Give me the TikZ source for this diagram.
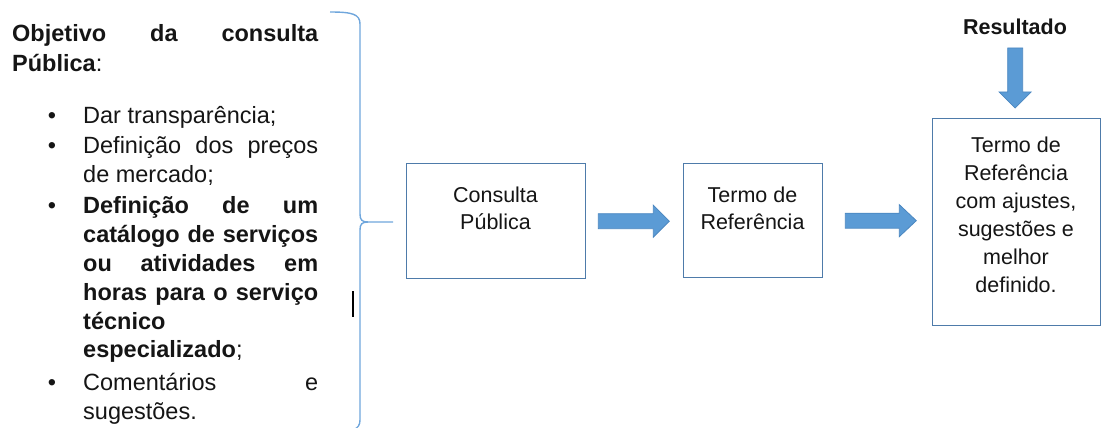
\documentclass[tikz,border=0pt]{standalone}
\usepackage{fontspec}
\setmainfont{Liberation Sans}
\definecolor{boxc}{HTML}{4E7BAA}
\definecolor{arrfill}{HTML}{5B9BD5}
\definecolor{arrline}{HTML}{4A86C0}
\definecolor{bracec}{HTML}{6FA6DC}
\definecolor{txt}{HTML}{151515}
\begin{document}
\begin{tikzpicture}[x=1pt,y=-1pt,
  ltext/.style={anchor=base west, inner sep=0pt, text=txt, font=\fontsize{23.5}{28}\selectfont},
  lbold/.style={ltext, font=\fontsize{23.5}{28}\selectfont\bfseries},
  bull/.style={anchor=base, inner sep=0pt, text=txt, font=\fontsize{23.5}{28}\selectfont},
  btext/.style={anchor=base, inner sep=0pt, text=txt, font=\fontsize{21.5}{27}\selectfont},
  boxst/.style={draw=boxc, line width=1.3pt, fill=white, inner sep=0pt, anchor=north west},
  blockarrow/.style={fill=arrfill, draw=arrline, line width=0.8pt, line join=miter},
  bracest/.style={draw=bracec, line width=1.4pt}]
\useasboundingbox (0,0) rectangle (1101,428);
\clip (0,0) rectangle (1101,428);

% left text
\node[lbold] (l1) at (12,42) {\makebox[306pt][s]{Objetivo da consulta}};
\node[ltext] (l2) at (12,72) {\textbf{Pública}:};
\node[bull] (b1) at (52,123) {•};
\node[ltext] (l3) at (83,123) {Dar transparência;};
\node[bull] (b2) at (52,153) {•};
\node[ltext] (l4) at (83,153) {\makebox[235pt][s]{Definição dos preços}};
\node[ltext] (l5) at (83,182) {de mercado;};
\node[bull] (b3) at (52,213) {•};
\node[lbold] (l6) at (83,213) {\makebox[235pt][s]{Definição de um}};
\node[lbold] (l7) at (83,242) {\makebox[235pt][s]{catálogo de serviços}};
\node[lbold] (l8) at (83,271) {\makebox[235pt][s]{ou atividades em}};
\node[lbold] (l9) at (83,300) {\makebox[235pt][s]{horas para o serviço}};
\node[lbold] (l10) at (83,329) {técnico};
\node[ltext] (l11) at (83,357) {\textbf{especializado};};
\node[bull] (b4) at (52,390) {•};
\node[ltext] (l12) at (83,390) {\makebox[235pt][s]{Comentários e}};
\node[ltext] (l13) at (83,419) {sugestões.};

% brace
\draw[bracest] (330,12) .. controls (352,12) and (360,14) .. (360,24)
  -- (360,214) .. controls (360,220) and (362,222) .. (368,222) -- (393,222);
\draw[bracest] (368,222) .. controls (362,222) and (360,224) .. (360,230)
  -- (360,420) .. controls (360,430) and (352,432) .. (330,432);
% cursor mark
\draw[black, line width=1.5pt] (353,291) -- (353,317);

% boxes
\node[boxst, minimum width=179pt, minimum height=115pt] (cp) at (406,163) {};
\node[boxst, minimum width=139pt, minimum height=114pt] (tr) at (683,163) {};
\node[boxst, minimum width=168pt, minimum height=207pt] (tf) at (932,118) {};

\node[btext] (cp1) at (495.5,202) {Consulta};
\node[btext] (cp2) at (495.5,229) {Pública};
\node[btext] (tr1) at (752.5,202) {Termo de};
\node[btext] (tr2) at (752.5,229) {Referência};
\node[btext] (tf1) at (1016,152) {Termo de};
\node[btext] (tf2) at (1016,180) {Referência};
\node[btext] (tf3) at (1016,208) {com ajustes,};
\node[btext] (tf4) at (1016,236) {sugestões e};
\node[btext] (tf5) at (1016,264) {melhor};
\node[btext] (tf6) at (1016,292) {definido.};

\node[btext, font=\fontsize{21.5}{27}\selectfont\bfseries] (res) at (1015,35) {Resultado};

% block arrows
\path (cp.east) ++(12,0) coordinate (a1s);
\path (tr.east) ++(22,0) coordinate (a2s);
\path (tf.north) ++(-1.5,-70) coordinate (a3s);
\draw[blockarrow] (a1s) ++(0,-7.5) -- ++(55,0) -- ++(0,-8.5) -- ++(16,16) -- ++(-16,16) -- ++(0,-8.5) -- ++(-55,0) -- cycle;
\draw[blockarrow] (a2s) ++(0,-7.5) -- ++(54,0) -- ++(0,-8.5) -- ++(17,16) -- ++(-17,16) -- ++(0,-8.5) -- ++(-54,0) -- cycle;
\draw[blockarrow] (a3s) ++(-7.5,0) -- ++(0,44) -- ++(-8.5,0) -- ++(16,16) -- ++(16,-16) -- ++(-8.5,0) -- ++(0,-44) -- cycle;
\end{tikzpicture}
\end{document}
